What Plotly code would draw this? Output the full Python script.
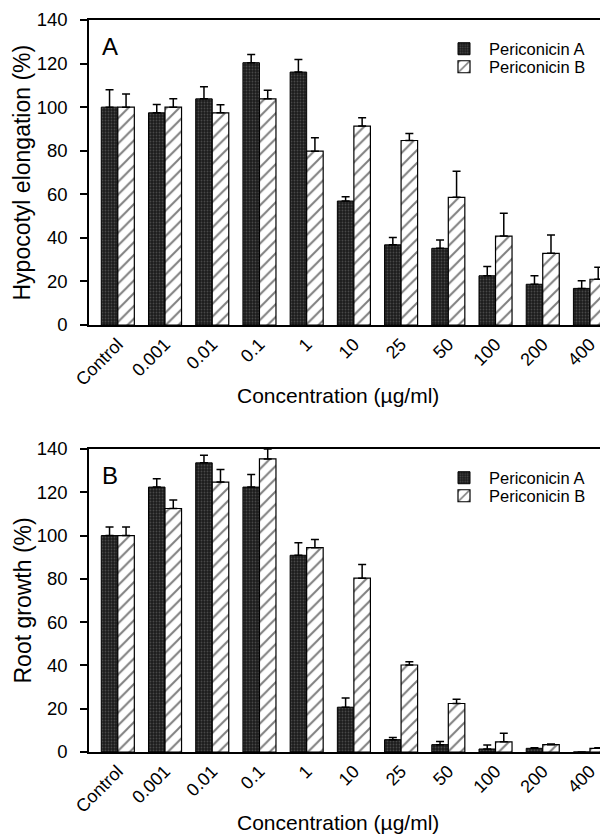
import plotly.graph_objects as go

# ---- data ----
categories = ["Control", "0.001", "0.01", "0.1", "1", "10", "25", "50", "100", "200", "400"]

hypo_A = [100, 97.4, 103.8, 120.4, 116.1, 56.9, 36.8, 35.2, 22.6, 18.7, 16.8]
hypo_A_err = [8, 3.8, 5.6, 3.8, 5.8, 2.0, 3.4, 3.8, 4.2, 3.9, 3.5]
hypo_B = [100, 100, 97.4, 103.8, 79.8, 91.3, 84.7, 58.6, 40.8, 32.9, 21.0]
hypo_B_err = [6, 3.8, 3.7, 4.0, 6.1, 3.8, 3.2, 12.0, 10.5, 8.4, 5.5]

root_A = [100, 122.4, 133.6, 122.4, 90.9, 20.7, 5.7, 3.4, 1.4, 1.7, 0]
root_A_err = [4, 3.8, 3.5, 5.8, 5.8, 4.2, 1.0, 1.4, 1.8, 0.3, 0]
root_B = [100, 112.5, 124.7, 135.4, 94.4, 80.3, 40.2, 22.4, 4.7, 3.4, 1.7]
root_B_err = [4, 3.9, 5.8, 4.6, 3.8, 6.3, 1.5, 2.0, 4.0, 0.3, 0.3]

series_names = ["Periconicin A", "Periconicin B"]
y_titles = ["Hypocotyl elongation (%)", "Root growth (%)"]
x_title = "Concentration (\u00b5g/ml)"
panel_letters = ["A", "B"]
y_ticks = [0, 20, 40, 60, 80, 100, 120, 140]

# The page body adds an 8px margin, so the figure is sized to fill the rest
# of the 608x837 window and screen positions are converted with OFF.
OFF = 8
W, H = 608 - OFF, 837 - OFF
FONT = "Liberation Sans, Arial, Helvetica, sans-serif"

style_A = dict(
    color="#1e1e1e",
    line=dict(color="black", width=1),
    pattern=dict(shape=".", fgcolor="#747474", bgcolor="#1c1c1c", size=3, solidity=0.3),
)
style_B = dict(
    color="white",
    line=dict(color="black", width=1.2),
    pattern=dict(shape="/", fgcolor="black", bgcolor="white", size=9, solidity=0.22),
)


def err(arr):
    return dict(type="data", array=arr, arrayminus=[0] * len(arr), symmetric=False,
                color="black", thickness=1.5, width=4)


fig = go.Figure()
panels = [
    ("x", "y", hypo_A, hypo_A_err, hypo_B, hypo_B_err, "legend", "legend2"),
    ("x2", "y2", root_A, root_A_err, root_B, root_B_err, "legend3", "legend4"),
]
for xa, ya, a, ae, b, be, lgA, lgB in panels:
    fig.add_trace(go.Bar(x=categories, y=a, name=series_names[0], marker=style_A,
                         error_y=err(ae), xaxis=xa, yaxis=ya, legend=lgA,
                         offsetgroup="A", showlegend=True))
    fig.add_trace(go.Bar(x=categories, y=b, name=series_names[1], marker=style_B,
                         error_y=err(be), xaxis=xa, yaxis=ya, legend=lgB,
                         offsetgroup="B", showlegend=True))

# panel geometry (screen pixels of the 608x837 window)
x_left, x_right = 89, 606
tops = [20, 449]
bottoms = [325, 752]


def px_x(p):
    return (p - OFF) / W


def px_y(p):
    return 1 - (p - OFF) / H


xaxis_common = dict(
    type="category", range=[-0.61, 10.34], showline=True, linecolor="black",
    linewidth=1.5, mirror=True, ticks="", tickangle=-45, showgrid=False,
    tickfont=dict(size=18, family=FONT, color="black"), zeroline=False,
    domain=[px_x(x_left), px_x(x_right)], automargin=False,
)
yaxis_common = dict(
    range=[0, 140], tickvals=y_ticks, ticks="outside", ticklen=7, tickwidth=1.5,
    tickcolor="black", showline=True, linecolor="black", linewidth=1.5,
    showgrid=False, zeroline=False, ticklabelstandoff=9,
    tickfont=dict(size=18.5, family=FONT, color="black"), automargin=False,
)

legend_common = dict(
    xanchor="left", yanchor="middle", itemwidth=40, bgcolor="rgba(0,0,0,0)",
    borderwidth=0, font=dict(size=16.5, family=FONT, color="black"),
    x=px_x(439),
)

annotations = []
shapes = []
for i in range(2):
    annotations.append(dict(text=panel_letters[i], x=px_x(110), y=px_y(tops[i] + 26),
                            xref="paper", yref="paper", showarrow=False,
                            xanchor="center", yanchor="middle",
                            font=dict(size=24, family=FONT, color="black")))
    annotations.append(dict(text=y_titles[i], x=px_x(22),
                            y=px_y((tops[i] + bottoms[i]) / 2),
                            xref="paper", yref="paper", showarrow=False, textangle=-90,
                            xanchor="center", yanchor="middle",
                            font=dict(size=23, family=FONT, color="black")))
    annotations.append(dict(text=x_title, x=px_x(338), y=px_y(bottoms[i] + 70),
                            xref="paper", yref="paper", showarrow=False,
                            xanchor="center", yanchor="middle", borderpad=0,
                            font=dict(size=21, family=FONT, color="black")))
    yref = "y domain" if i == 0 else "y2 domain"
    xref = "x domain" if i == 0 else "x2 domain"
    shapes.append(dict(type="line", xref=xref, yref=yref, x0=1, x1=1, y0=0, y1=1,
                       line=dict(color="#b0b0b0", width=1, dash="dot")))

fig.update_layout(
    width=W, height=H,
    margin=dict(l=0, r=0, t=0, b=0),
    paper_bgcolor="white", plot_bgcolor="white",
    font=dict(family=FONT, color="black"),
    showlegend=True,
    barmode="group", bargap=0.30, bargroupgap=0,
    xaxis=dict(xaxis_common, anchor="y"),
    yaxis=dict(yaxis_common, anchor="x", domain=[px_y(bottoms[0]), px_y(tops[0])]),
    xaxis2=dict(xaxis_common, anchor="y2"),
    yaxis2=dict(yaxis_common, anchor="x2", domain=[px_y(bottoms[1]), px_y(tops[1])]),
    legend=dict(legend_common, y=px_y(49)),
    legend2=dict(legend_common, y=px_y(67)),
    legend3=dict(legend_common, y=px_y(478)),
    legend4=dict(legend_common, y=px_y(496)),
    annotations=annotations,
    shapes=shapes,
)

fig.write_html("out.html")
